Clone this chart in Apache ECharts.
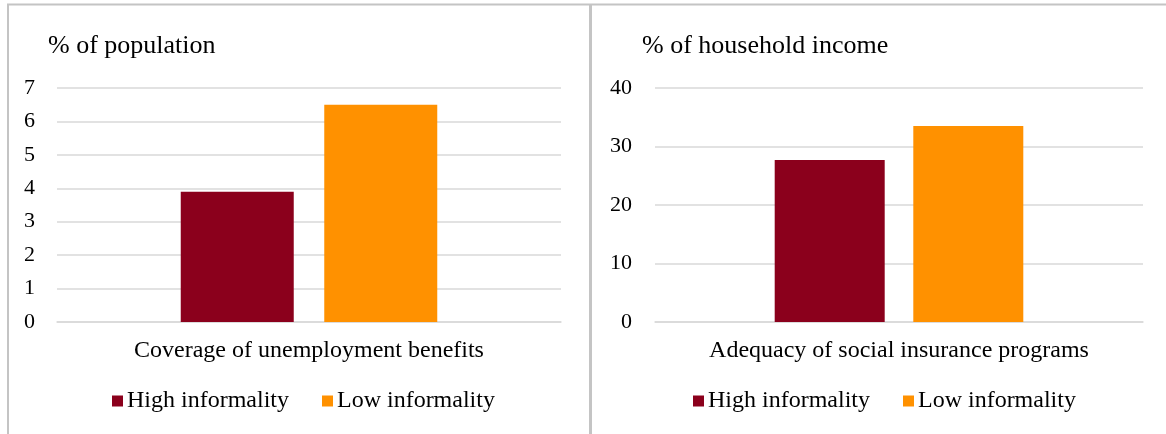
<!DOCTYPE html>
<html>
<head>
<meta charset="utf-8">
<script src="https://cdn.jsdelivr.net/npm/echarts@6/dist/echarts.min.js"></script>
<style>
html,body{margin:0;padding:0;background:#fff;}
#c{width:1166px;height:434px;}
</style>
</head>
<body>
<div id="c"></div>
<script>
// Data
const leftCategories = ['Coverage of unemployment benefits'];
const rightCategories = ['Adequacy of social insurance programs'];
const seriesNames = ['High informality', 'Low informality'];
const leftHigh = [3.9];
const leftLow = [6.5];
const rightHigh = [27.7];
const rightLow = [33.5];
const leftTitle = '% of population';
const rightTitle = '% of household income';

const FONT = '"Liberation Serif", "Times New Roman", serif';
const RED = '#8B001C';
const ORANGE = '#FF9100';
const GRIDC = '#d9d9d9';

const chart = echarts.init(document.getElementById('c'), null, {renderer: 'canvas'});

function yAx(gi, max, interval, margin) {
  return {
    gridIndex: gi, type: 'value', min: 0, max: max, interval: interval,
    axisLine: {show: false}, axisTick: {show: false},
    axisLabel: {fontFamily: FONT, fontSize: 22, color: '#000', margin: margin},
    splitLine: {lineStyle: {color: GRIDC, width: 1.5}}
  };
}
function xAx(gi, cats) {
  return {
    gridIndex: gi, type: 'category', data: cats,
    axisLine: {show: true, lineStyle: {color: GRIDC, width: 1.5}},
    axisTick: {show: false},
    axisLabel: {fontFamily: FONT, fontSize: 24, color: '#000', margin: 17}
  };
}
function legendAt(left) {
  return {
    left: left, top: 384, icon: 'rect', itemWidth: 11, itemHeight: 11,
    itemGap: 33, data: seriesNames,
    textStyle: {fontFamily: FONT, fontSize: 24, color: '#000', padding: [0,0,0,-1]}
  };
}

chart.setOption({
  animation: false,
  title: [
    {text: leftTitle, left: 43, top: 28, textStyle: {fontFamily: FONT, fontSize: 26, fontWeight: 'normal', color: '#000'}},
    {text: rightTitle, left: 637, top: 28, textStyle: {fontFamily: FONT, fontSize: 26, fontWeight: 'normal', color: '#000'}}
  ],
  legend: [legendAt(107), legendAt(688)],
  grid: [
    {left: 57, right: 605, top: 88, bottom: 112},
    {left: 655, right: 23, top: 88, bottom: 112}
  ],
  xAxis: [xAx(0, leftCategories), xAx(1, rightCategories)],
  yAxis: [yAx(0, 7, 1, 22), yAx(1, 40, 10, 23)],
  series: [
    {name: seriesNames[0], type: 'bar', xAxisIndex: 0, yAxisIndex: 0, data: leftHigh, barWidth: 113, barGap: '27%', itemStyle: {color: RED}},
    {name: seriesNames[1], type: 'bar', xAxisIndex: 0, yAxisIndex: 0, data: leftLow, barWidth: 113, barGap: '27%', itemStyle: {color: ORANGE}},
    {name: seriesNames[0], type: 'bar', xAxisIndex: 1, yAxisIndex: 1, data: rightHigh, barWidth: 110, barGap: '26%', itemStyle: {color: RED}},
    {name: seriesNames[1], type: 'bar', xAxisIndex: 1, yAxisIndex: 1, data: rightLow, barWidth: 110, barGap: '26%', itemStyle: {color: ORANGE}}
  ],
  graphic: [
    {type: 'line', shape: {x1: 7, y1: 4.5, x2: 1166, y2: 4.5}, style: {stroke: '#c4c4c4', lineWidth: 2}, silent: true},
    {type: 'line', shape: {x1: 8, y1: 4, x2: 8, y2: 434}, style: {stroke: '#c4c4c4', lineWidth: 2}, silent: true},
    {type: 'line', shape: {x1: 590.5, y1: 4, x2: 590.5, y2: 434}, style: {stroke: '#c4c4c4', lineWidth: 3}, silent: true}
  ]
});
</script>
</body>
</html>
